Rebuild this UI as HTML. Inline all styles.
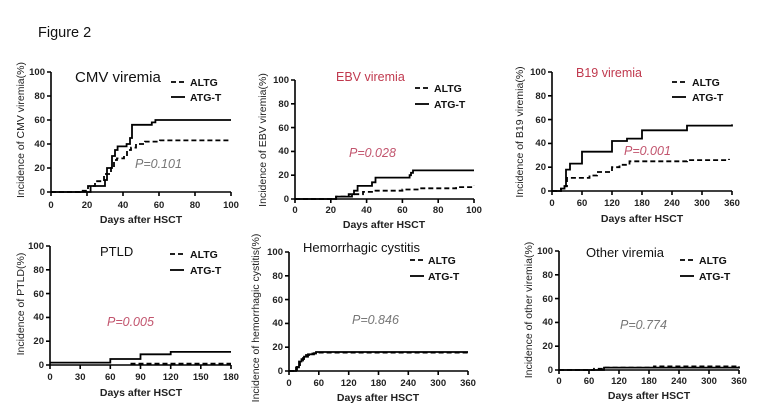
<!DOCTYPE html>
<html><head><meta charset="utf-8"><style>
html,body{margin:0;padding:0;background:#fff}
svg{display:block;font-family:"Liberation Sans",Arial,sans-serif}
.ax{stroke:#000;stroke-width:1.6;fill:none}
.tk{font-size:9.5px;font-weight:bold;fill:#222}
.xt{font-size:10.5px;font-weight:bold;fill:#222;text-anchor:middle}
.yt{font-size:10.5px;fill:#222;text-anchor:middle}
.lg{font-size:10.5px;font-weight:bold;fill:#111}
.s{stroke:#000;stroke-width:1.8;fill:none}
.d{stroke:#000;stroke-width:1.8;fill:none;stroke-dasharray:5 3}
.pg{font-size:12.5px;font-style:italic;fill:#777}
.pr{font-size:12.5px;font-style:italic;fill:#c2556e}
</style></head><body>
<svg width="760" height="420" viewBox="0 0 760 420">
<text x="38" y="37" font-size="14.5" fill="#111">Figure 2</text>

<!-- Panel 1 CMV -->
<g>
<path class="ax" d="M51,72 V192 H231"/>
<path class="ax" d="M47,72H51M47,96H51M47,120H51M47,144H51M47,168H51M47,192H51M51,192V196M87,192V196M123,192V196M159,192V196M195,192V196M231,192V196"/>
<g class="tk" text-anchor="end"><text x="45" y="75">100</text><text x="45" y="99">80</text><text x="45" y="123">60</text><text x="45" y="147">40</text><text x="45" y="171">20</text><text x="45" y="195">0</text></g>
<g class="tk" text-anchor="middle"><text x="51" y="208">0</text><text x="87" y="208">20</text><text x="123" y="208">40</text><text x="159" y="208">60</text><text x="195" y="208">80</text><text x="231" y="208">100</text></g>
<text class="xt" x="141" y="223">Days after HSCT</text>
<text class="yt" transform="translate(24,130) rotate(-90)">Incidence of CMV viremia(%)</text>
<text x="75" y="82" font-size="15" fill="#111">CMV viremia</text>
<path class="d" d="M171,82H185"/><text class="lg" x="190" y="86">ALTG</text>
<path class="s" d="M171,97H185"/><text class="lg" x="190" y="101">ATG-T</text>
<text class="pg" x="135" y="168">P=0.101</text>
<path class="s" d="M51,192 H90.6 V186 H105 V180 H107 V168 H112 V156 H115 V150 H117.6 V146.4 H126.6 V144 H130 V138 H132 V124.8 H151.8 V122.4 H155.4 V120 H231"/>
<path class="d" d="M51,192 H79.8 V190.8 H88 V186 H95 V181.2 H104 V174 H111 V168 H114 V160 H117 V158.4 H124 V156 H127 V150 H131 V147.6 H136 V144 H145 V141.6 H160 V140.4 H231"/>
</g>

<!-- Panel 2 EBV -->
<g>
<path class="ax" d="M295,80 V199 H474"/>
<path class="ax" d="M291,80H295M291,103.8H295M291,127.6H295M291,151.4H295M291,175.2H295M291,199H295M295,199V203M330.8,199V203M366.6,199V203M402.4,199V203M438.2,199V203M474,199V203"/>
<g class="tk" text-anchor="end"><text x="289" y="83">100</text><text x="289" y="107">80</text><text x="289" y="131">60</text><text x="289" y="154">40</text><text x="289" y="178">20</text><text x="289" y="202">0</text></g>
<g class="tk" text-anchor="middle"><text x="295" y="213">0</text><text x="330.8" y="213">20</text><text x="366.6" y="213">40</text><text x="402.4" y="213">60</text><text x="438.2" y="213">80</text><text x="474" y="213">100</text></g>
<text class="xt" x="384" y="228">Days after HSCT</text>
<text class="yt" transform="translate(266,140) rotate(-90)">Incidence of EBV viremia(%)</text>
<text x="336" y="81" font-size="12.5" fill="#c0394e">EBV viremia</text>
<path class="d" d="M415,88H429"/><text class="lg" x="434" y="92">ALTG</text>
<path class="s" d="M415,104H429"/><text class="lg" x="434" y="108">ATG-T</text>
<text class="pr" x="349" y="157">P=0.028</text>
<path class="s" d="M295,199 H336 V196.6 H352 V194.2 H354 V190.7 H357.6 V185.9 H372 V182.3 H375.5 V177.6 H409.6 V175.2 H411 V172.8 H413 V170.4 H474"/>
<path class="d" d="M295,199 H336.2 V196.6 H348.7 V194.2 H363 V191.9 H375.5 V190.7 H402.4 V189.5 H420.3 V188.3 H456.1 V187.1 H474 V185.9"/>
</g>

<!-- Panel 3 B19 -->
<g>
<path class="ax" d="M552,72 V191 H732"/>
<path class="ax" d="M548,72H552M548,95.8H552M548,119.6H552M548,143.4H552M548,167.2H552M548,191H552M552,191V195M582,191V195M612,191V195M642,191V195M672,191V195M702,191V195M732,191V195"/>
<g class="tk" text-anchor="end"><text x="546" y="75">100</text><text x="546" y="99">80</text><text x="546" y="123">60</text><text x="546" y="146">40</text><text x="546" y="170">20</text><text x="546" y="194">0</text></g>
<g class="tk" text-anchor="middle"><text x="552" y="206">0</text><text x="582" y="206">60</text><text x="612" y="206">120</text><text x="642" y="206">180</text><text x="672" y="206">240</text><text x="702" y="206">300</text><text x="732" y="206">360</text></g>
<text class="xt" x="642" y="222">Days after HSCT</text>
<text class="yt" transform="translate(523,132) rotate(-90)">Incidence of B19 viremia(%)</text>
<text x="576" y="77" font-size="12.5" fill="#c0394e">B19 viremia</text>
<path class="d" d="M672,82H686"/><text class="lg" x="692" y="86">ALTG</text>
<path class="s" d="M672,97H686"/><text class="lg" x="692" y="101">ATG-T</text>
<text class="pr" x="624" y="155">P=0.001</text>
<path class="s" d="M552,191 H561 V188.6 H564.5 V186.2 H566 V169.6 H570 V163.6 H582 V151.7 H612 V141 H627 V138.6 H642 V130.3 H687 V125.6 H732 V124.4"/>
<path class="d" d="M552,191 H561 V188.6 H564.5 V186.2 H567 V177.9 H589.5 V175.5 H597 V172 H612 V167.2 H619.5 V164.8 H629.5 V161.3 H687 V160.1 H729 V158.9"/>
</g>

<!-- Panel 4 PTLD -->
<g>
<path class="ax" d="M50,246 V365 H231"/>
<path class="ax" d="M46,246H50M46,269.8H50M46,293.6H50M46,317.4H50M46,341.2H50M46,365H50M50,365V369M80.2,365V369M110.3,365V369M140.5,365V369M170.7,365V369M200.8,365V369M231,365V369"/>
<g class="tk" text-anchor="end"><text x="44" y="249">100</text><text x="44" y="273">80</text><text x="44" y="297">60</text><text x="44" y="320">40</text><text x="44" y="344">20</text><text x="44" y="368">0</text></g>
<g class="tk" text-anchor="middle"><text x="50" y="380">0</text><text x="80.2" y="380">30</text><text x="110.3" y="380">60</text><text x="140.5" y="380">90</text><text x="170.7" y="380">120</text><text x="200.8" y="380">150</text><text x="231" y="380">180</text></g>
<text class="xt" x="141" y="396">Days after HSCT</text>
<text class="yt" transform="translate(24,304) rotate(-90)">Incidence of PTLD(%)</text>
<text x="100" y="256" font-size="13" fill="#111">PTLD</text>
<path class="d" d="M170,254H184"/><text class="lg" x="190" y="258">ALTG</text>
<path class="s" d="M170,270H184"/><text class="lg" x="190" y="274">ATG-T</text>
<text class="pr" x="107" y="326">P=0.005</text>
<path class="s" d="M50,362.6 H110.3 V359 H140.5 V354.3 H170.7 V351.9 H231"/>
<path class="d" d="M130.5,363.6 H231"/>
</g>

<!-- Panel 5 HC -->
<g>
<path class="ax" d="M289,252 V371 H468"/>
<path class="ax" d="M285,252H289M285,275.8H289M285,299.6H289M285,323.4H289M285,347.2H289M285,371H289M289,371V375M318.8,371V375M348.7,371V375M378.5,371V375M408.3,371V375M438.2,371V375M468,371V375"/>
<g class="tk" text-anchor="end"><text x="283" y="255">100</text><text x="283" y="279">80</text><text x="283" y="303">60</text><text x="283" y="326">40</text><text x="283" y="350">20</text><text x="283" y="374">0</text></g>
<g class="tk" text-anchor="middle"><text x="289" y="386">0</text><text x="318.8" y="386">60</text><text x="348.7" y="386">120</text><text x="378.5" y="386">180</text><text x="408.3" y="386">240</text><text x="438.2" y="386">300</text><text x="468" y="386">360</text></g>
<text class="xt" x="378" y="401">Days after HSCT</text>
<text class="yt" transform="translate(259,318) rotate(-90)">Incidence of hemorrhagic cystitis(%)</text>
<text x="303" y="252" font-size="13" fill="#111">Hemorrhagic cystitis</text>
<path class="d" d="M410,260H424"/><text class="lg" x="428" y="264">ALTG</text>
<path class="s" d="M410,276H424"/><text class="lg" x="428" y="280">ATG-T</text>
<text class="pg" x="352" y="324">P=0.846</text>
<path class="s" d="M289,371 H296 V367.4 H299 V361.5 H301.5 V359.1 H304 V356.7 H308 V354.3 H314 V353.2 H316 V352 H468"/>
<path class="d" d="M289,371 H297 V366 H300 V360.5 H303 V358 H306 V355 H310 V353.5 H316 V352.6 H468 V350.8"/>
</g>

<!-- Panel 6 Other -->
<g>
<path class="ax" d="M559,251 V370 H739"/>
<path class="ax" d="M555,251H559M555,274.8H559M555,298.6H559M555,322.4H559M555,346.2H559M555,370H559M559,370V374M589,370V374M619,370V374M649,370V374M679,370V374M709,370V374M739,370V374"/>
<g class="tk" text-anchor="end"><text x="553" y="254">100</text><text x="553" y="278">80</text><text x="553" y="302">60</text><text x="553" y="325">40</text><text x="553" y="349">20</text><text x="553" y="373">0</text></g>
<g class="tk" text-anchor="middle"><text x="559" y="384">0</text><text x="589" y="384">60</text><text x="619" y="384">120</text><text x="649" y="384">180</text><text x="679" y="384">240</text><text x="709" y="384">300</text><text x="739" y="384">360</text></g>
<text class="xt" x="649" y="399">Days after HSCT</text>
<text class="yt" transform="translate(532,310) rotate(-90)">Incidence of other viremia(%)</text>
<text x="586" y="257" font-size="13" fill="#111">Other viremia</text>
<path class="d" d="M680,260H694"/><text class="lg" x="699" y="264">ALTG</text>
<path class="s" d="M680,276H694"/><text class="lg" x="699" y="280">ATG-T</text>
<text class="pg" x="620" y="329">P=0.774</text>
<path class="s" d="M559,370 H604 V367.6 H739 V366.4"/>
<path class="d" d="M559,370 H594 V368.8 H604 V367.6 H654 V366.4 H739"/>
</g>
</svg>
</body></html>
